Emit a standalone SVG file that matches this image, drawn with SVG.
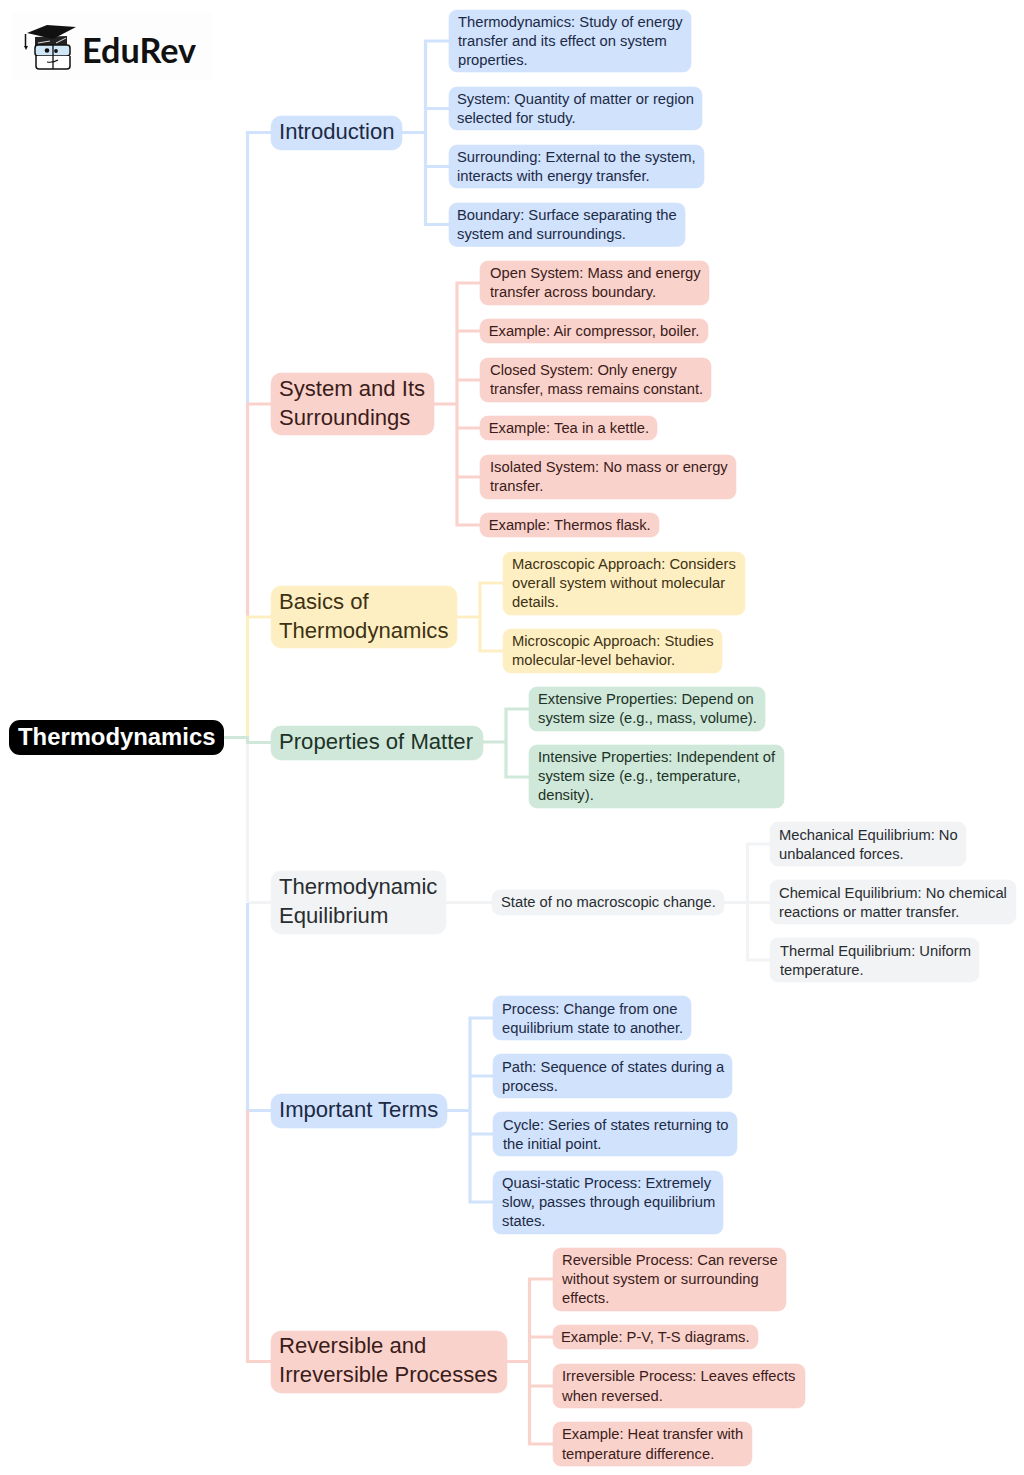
<svg xmlns="http://www.w3.org/2000/svg" width="1024" height="1475" viewBox="0 0 1024 1475">
<style>
text{font-family:"Liberation Sans",Arial,sans-serif}
.l{font-size:14.75px}
.h{font-size:22.1px}
.r{font-size:23.85px;font-weight:700;fill:#fff}
.c{fill:none;stroke-width:3.2}
.bb{fill:#d0e2fc;stroke:#d0e2fc;stroke-width:.6}.rr{fill:#fad2cc;stroke:#fad2cc;stroke-width:.6}.yy{fill:#feefc3;stroke:#feefc3;stroke-width:.6}.gg{fill:#cfe8d9;stroke:#cfe8d9;stroke-width:.6}.ee{fill:#f1f3f5;stroke:#f1f3f5;stroke-width:.6}
.tb text{fill:#1c2a45}.tr text{fill:#3a1c1a}.ty text{fill:#3d3213}.tg text{fill:#1d3327}.te text{fill:#2a2d30}
.cb{stroke:#d0e2fc}.cr{stroke:#fad2cc}.cy{stroke:#feefc3}.cg{stroke:#cfe8d9}.ce{stroke:#f1f3f5}
</style>
<rect width="1024" height="1475" fill="#fff"/>
<g id="connectors">
<path class="c cb" d="M271 132.500H247.500V404"/>
<path class="c cr" d="M271 404H247.500V617"/>
<path class="c cy" d="M271 617H247.500V736"/>
<path class="c ce" d="M247.500 744V902.500M271 902.500H247.500"/>
<path class="c cb" d="M271 1110.500H247.500V903"/>
<path class="c cr" d="M271 1361.500H247.500V1110"/>
<path class="c cg" d="M224 737.500H247.500V742.500H271"/>
<path class="c cb" d="M402 132.500H425.500M449 41H425.500V224.500H449M425.500 108.500H449M425.500 166.500H449"/>
<path class="c cr" d="M433 404H457M480 283H457V525H480M457 331H480M457 380H480M457 428H480M457 477H480"/>
<path class="c cy" d="M457 617H480M503 583H480V651H503"/>
<path class="c cg" d="M483 742H506M529 709H506V777H529"/>
<path class="c ce" d="M446 902.500H492M724 902.500H747.500M770 844H747.500V960H770M747.500 902.500H770"/>
<path class="c cb" d="M447 1110.500H470M493 1018H470V1202H493M470 1076H493M470 1134H493"/>
<path class="c cr" d="M506 1361.500H529.500M553 1279H529.500V1444H553M529.500 1337H553M529.500 1386H553"/>
</g>
<g id="logo">
<rect x="12" y="12" width="200" height="68" fill="#fdfdfd"/>
<path d="M35 37V46H67V36Z" fill="#222"/>
<path d="M38 43L50 41M56 43L66 38" stroke="#ddd" stroke-width="1" fill="none"/>
<path d="M27 33L47 25L76 27L53 39Z" fill="#111"/>
<path d="M25.500 34V47" stroke="#111" stroke-width="1.500" fill="none"/>
<path d="M24 46H28L26 50Z" fill="#111"/>
<rect x="35" y="45" width="35" height="11" rx="3" fill="#cfe6f7" stroke="#111" stroke-width="1.500"/>
<path d="M36 56V66Q36 69 39 69H67Q70 69 70 66V56" fill="#fff" stroke="#111" stroke-width="1.500"/>
<path d="M53 44V69" stroke="#111" stroke-width="1.300"/>
<path d="M47 62Q53 63 58 60" stroke="#111" stroke-width="1.200" fill="none"/>
<circle cx="47" cy="50.500" r="2.300" fill="#111"/><circle cx="56" cy="51" r="1.900" fill="#111"/>
<text x="82" y="62.500" style="font-family:Lato,sans-serif;font-size:34.200px;font-weight:700;fill:#111">EduRev</text>
</g>
<g id="root"><rect x="9" y="720" width="215" height="35" rx="11" fill="#000"/><text class="r" x="18" y="745">Thermodynamics</text></g>

<g id="n-introduction" class="tb"><rect class="bb" x="271" y="116" width="131" height="34" rx="10"/><text class="h" x="279" y="138.800">Introduction</text></g>
<g id="n-i1" class="tb"><rect class="bb" x="449" y="10" width="242" height="62" rx="8"/><text class="l" x="458" y="27">Thermodynamics: Study of energy</text><text class="l" x="458" y="46">transfer and its effect on system</text><text class="l" x="458" y="65">properties.</text></g>
<g id="n-i2" class="tb"><rect class="bb" x="449" y="87" width="253" height="43" rx="8"/><text class="l" x="457" y="104">System: Quantity of matter or region</text><text class="l" x="457" y="123.300">selected for study.</text></g>
<g id="n-i3" class="tb"><rect class="bb" x="449" y="145" width="255" height="43" rx="8"/><text class="l" x="457" y="162">Surrounding: External to the system,</text><text class="l" x="457" y="181.300">interacts with energy transfer.</text></g>
<g id="n-i4" class="tb"><rect class="bb" x="449" y="203" width="236" height="43.500" rx="8"/><text class="l" x="457" y="220">Boundary: Surface separating the</text><text class="l" x="457" y="239.300">system and surroundings.</text></g>

<g id="n-system" class="tr"><rect class="rr" x="271" y="373" width="163" height="62" rx="10"/><text class="h" x="279" y="395.800">System and Its</text><text class="h" x="279" y="424.800">Surroundings</text></g>
<g id="n-s1" class="tr"><rect class="rr" x="480" y="261" width="229" height="44" rx="8"/><text class="l" x="490" y="278">Open System: Mass and energy</text><text class="l" x="490" y="297.300">transfer across boundary.</text></g>
<g id="n-s2" class="tr"><rect class="rr" x="480" y="319" width="228" height="24" rx="8"/><text class="l" x="488.700" y="336">Example: Air compressor, boiler.</text></g>
<g id="n-s3" class="tr"><rect class="rr" x="480" y="358" width="231" height="44" rx="8"/><text class="l" x="490" y="375">Closed System: Only energy</text><text class="l" x="490" y="394.300">transfer, mass remains constant.</text></g>
<g id="n-s4" class="tr"><rect class="rr" x="480" y="416" width="177" height="24" rx="8"/><text class="l" x="488.700" y="433">Example: Tea in a kettle.</text></g>
<g id="n-s5" class="tr"><rect class="rr" x="480" y="455" width="256" height="44" rx="8"/><text class="l" x="490" y="472">Isolated System: No mass or energy</text><text class="l" x="490" y="491.300">transfer.</text></g>
<g id="n-s6" class="tr"><rect class="rr" x="480" y="513" width="179" height="24" rx="8"/><text class="l" x="488.700" y="530">Example: Thermos flask.</text></g>

<g id="n-basics" class="ty"><rect class="yy" x="271" y="586" width="186" height="62" rx="10"/><text class="h" x="279" y="608.800">Basics of</text><text class="h" x="279" y="637.800">Thermodynamics</text></g>
<g id="n-b1" class="ty"><rect class="yy" x="503" y="552" width="242" height="63" rx="8"/><text class="l" x="512" y="569">Macroscopic Approach: Considers</text><text class="l" x="512" y="588.300">overall system without molecular</text><text class="l" x="512" y="607">details.</text></g>
<g id="n-b2" class="ty"><rect class="yy" x="503" y="629" width="219" height="44" rx="8"/><text class="l" x="512" y="646">Microscopic Approach: Studies</text><text class="l" x="512" y="665.300">molecular-level behavior.</text></g>

<g id="n-properties" class="tg"><rect class="gg" x="271" y="726" width="212" height="34" rx="10"/><text class="h" x="279" y="748.800">Properties of Matter</text></g>
<g id="n-p1" class="tg"><rect class="gg" x="529" y="687" width="236" height="44" rx="8"/><text class="l" x="538" y="704">Extensive Properties: Depend on</text><text class="l" x="538" y="723.300">system size (e.g., mass, volume).</text></g>
<g id="n-p2" class="tg"><rect class="gg" x="529" y="745" width="255" height="63" rx="8"/><text class="l" x="538" y="762">Intensive Properties: Independent of</text><text class="l" x="538" y="781.300">system size (e.g., temperature,</text><text class="l" x="538" y="800">density).</text></g>

<g id="n-equilibrium" class="te"><rect class="ee" x="271" y="871" width="175" height="63" rx="10"/><text class="h" x="279" y="894.300">Thermodynamic</text><text class="h" x="279" y="923.300">Equilibrium</text></g>
<g id="n-e0" class="te"><rect class="ee" x="492" y="890" width="232" height="25" rx="8"/><text class="l" x="501" y="907.300">State of no macroscopic change.</text></g>
<g id="n-e1" class="te"><rect class="ee" x="770" y="822" width="196" height="44" rx="8"/><text class="l" x="779" y="839.500">Mechanical Equilibrium: No</text><text class="l" x="779" y="858.700">unbalanced forces.</text></g>
<g id="n-e2" class="te"><rect class="ee" x="770" y="880" width="246" height="44" rx="8"/><text class="l" x="779" y="897.500">Chemical Equilibrium: No chemical</text><text class="l" x="779" y="916.700">reactions or matter transfer.</text></g>
<g id="n-e3" class="te"><rect class="ee" x="770" y="938" width="209" height="44" rx="8"/><text class="l" x="780" y="955.700">Thermal Equilibrium: Uniform</text><text class="l" x="780" y="975">temperature.</text></g>

<g id="n-terms" class="tb"><rect class="bb" x="271" y="1094" width="176" height="34" rx="10"/><text class="h" x="279" y="1116.800">Important Terms</text></g>
<g id="n-t1" class="tb"><rect class="bb" x="493" y="996" width="198" height="44" rx="8"/><text class="l" x="502" y="1013.700">Process: Change from one</text><text class="l" x="502" y="1033">equilibrium state to another.</text></g>
<g id="n-t2" class="tb"><rect class="bb" x="493" y="1054" width="239" height="44" rx="8"/><text class="l" x="502" y="1071.700">Path: Sequence of states during a</text><text class="l" x="502" y="1091">process.</text></g>
<g id="n-t3" class="tb"><rect class="bb" x="493" y="1112" width="244" height="44" rx="8"/><text class="l" x="503" y="1129.700">Cycle: Series of states returning to</text><text class="l" x="503" y="1149">the initial point.</text></g>
<g id="n-t4" class="tb"><rect class="bb" x="493" y="1171" width="230" height="63" rx="8"/><text class="l" x="502" y="1188">Quasi-static Process: Extremely</text><text class="l" x="502" y="1207.300">slow, passes through equilibrium</text><text class="l" x="502" y="1226">states.</text></g>

<g id="n-reversible" class="tr"><rect class="rr" x="271" y="1331" width="236" height="62" rx="10"/><text class="h" x="279" y="1353.300">Reversible and</text><text class="h" x="279" y="1382.300">Irreversible Processes</text></g>
<g id="n-r1" class="tr"><rect class="rr" x="553" y="1248" width="233" height="63" rx="8"/><text class="l" x="562" y="1265">Reversible Process: Can reverse</text><text class="l" x="562" y="1284.300">without system or surrounding</text><text class="l" x="562" y="1303">effects.</text></g>
<g id="n-r2" class="tr"><rect class="rr" x="553" y="1325" width="205" height="24" rx="8"/><text class="l" x="561" y="1342">Example: P-V, T-S diagrams.</text></g>
<g id="n-r3" class="tr"><rect class="rr" x="553" y="1364" width="252" height="44" rx="8"/><text class="l" x="562" y="1381">Irreversible Process: Leaves effects</text><text class="l" x="562" y="1400.500">when reversed.</text></g>
<g id="n-r4" class="tr"><rect class="rr" x="553" y="1422" width="199" height="44" rx="8"/><text class="l" x="562" y="1439">Example: Heat transfer with</text><text class="l" x="562" y="1458.500">temperature difference.</text></g>
</svg>
